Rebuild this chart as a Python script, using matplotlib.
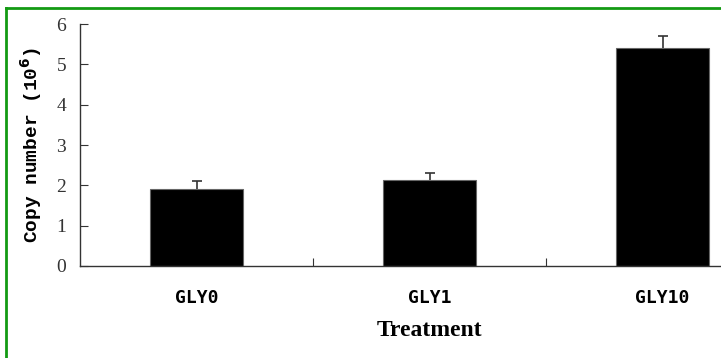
import matplotlib.pyplot as plt
from matplotlib.lines import Line2D

# copy number per treatment (x10^6) with standard error
treatments = ['GLY0', 'GLY1', 'GLY10']
copy_number = [1.92, 2.12, 5.40]
copy_err = [0.19, 0.18, 0.31]

W, H = 721, 358
fig = plt.figure(figsize=(W / 100, H / 100), dpi=100)

# axes run past the right edge of the figure
ax = fig.add_axes([80 / W, 1 - 266 / H, 699 / W, 242 / H])

x = range(len(treatments))
# error bars sit behind the bars so only the upper half shows
ax.errorbar(x, copy_number, yerr=copy_err, fmt='none', zorder=1,
            ecolor='#333333', elinewidth=1.2, capsize=3.6, capthick=1.2)
ax.bar(x, copy_number, width=0.40, color='black', edgecolor='#666666',
       linewidth=0.8, zorder=2)

ax.set_xlim(-0.5, 2.5)
ax.set_ylim(0, 6)
ax.set_yticks(range(0, 7))
ax.set_xticks([0.5, 1.5])
ax.set_xticklabels([])
ax.tick_params(axis='both', direction='in', length=6, width=0.8, color='#333333')
ax.tick_params(axis='y', labelsize=14, pad=10, labelcolor='#333333')
for lab in ax.get_yticklabels():
    lab.set_fontfamily('Liberation Serif')

for s in ['top', 'right']:
    ax.spines[s].set_visible(False)
for s in ['left', 'bottom']:
    ax.spines[s].set_color('#333333')
    ax.spines[s].set_linewidth(1.0)

# category names under each bar
for i, name in enumerate(treatments):
    ax.text(i, -0.8, name, ha='center', va='center', fontsize=13,
            fontfamily='DejaVu Sans Mono', fontweight='bold')

ax.set_ylabel('Copy number (10$^{\\mathbf{6}}$)', fontsize=14,
              fontfamily='Liberation Mono', fontweight='bold', labelpad=9)
fig.text(430 / W, 1 - 331 / H, 'Treatment', ha='center', va='center',
         fontsize=17, fontfamily='Liberation Serif', fontweight='bold')

# green frame (left and top edges)
fig.add_artist(Line2D([6 / W, 6 / W], [0, 1 - 8 / H], transform=fig.transFigure,
                      color='#139a13', linewidth=2))
fig.add_artist(Line2D([6 / W, 1], [1 - 8 / H, 1 - 8 / H], transform=fig.transFigure,
                      color='#139a13', linewidth=2))

fig.savefig('out.png', dpi=100)
